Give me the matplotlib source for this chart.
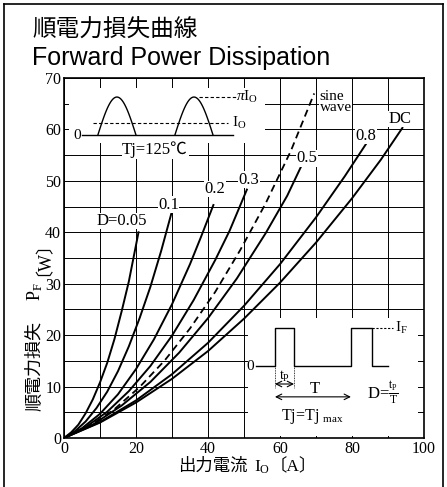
import numpy as np
import matplotlib
matplotlib.use("Agg")
import matplotlib.pyplot as plt
from matplotlib.patches import Rectangle

plt.rcParams["font.family"] = ["Liberation Serif", "Noto Sans CJK JP", "DejaVu Sans"]
plt.rcParams["mathtext.fontset"] = "custom"
plt.rcParams["mathtext.rm"] = "Liberation Serif"
plt.rcParams["mathtext.it"] = "Liberation Serif:italic"

# 読み取った曲線データ (出力電流 Io [A], 損失 PF [W])
io_d005 = [0, 2, 4, 6, 8, 10, 12, 14, 16, 18, 20.7]
pf_d005 = [0, 1.1, 2.6, 4.8, 7.5, 10.8, 14.6, 19.2, 24.6, 30.4, 40.0]

io_d01 = [0, 3, 6, 9, 12, 15, 18, 21, 24, 27, 29.8]
pf_d01 = [0, 1.3, 3.2, 5.8, 9.0, 13.0, 17.8, 23.3, 29.4, 36.4, 43.6]

io_d02 = [0, 5, 10, 15, 20, 25, 30, 35, 38, 41.5]
pf_d02 = [0, 1.9, 4.7, 8.5, 13.4, 19.2, 26.0, 33.8, 39.0, 45.3]

io_d03 = [0, 6, 12, 18, 24, 30, 36, 42, 46, 50.8]
pf_d03 = [0, 2.1, 5.1, 9.1, 14.0, 19.9, 26.8, 34.6, 40.3, 48.3]

io_sine = [0, 7, 14, 21, 28, 35, 42, 49, 56, 63, 69.5]
pf_sine = [0, 2.3, 5.6, 9.9, 15.1, 21.3, 28.4, 36.6, 45.6, 55.8, 67.0]

io_d05 = [0, 8, 16, 24, 32, 40, 48, 56, 62, 66]
pf_d05 = [0, 2.6, 6.3, 10.9, 16.6, 23.3, 31.0, 39.8, 47.1, 53.0]

io_d08 = [0, 10, 20, 30, 40, 50, 60, 70, 78, 84.2]
pf_d08 = [0, 3.1, 7.3, 12.4, 18.5, 25.7, 33.8, 42.9, 50.9, 57.5]

io_dc = [0, 10, 20, 30, 40, 50, 60, 70, 80, 88, 94]
pf_dc = [0, 3.0, 6.9, 11.5, 16.9, 23.2, 30.2, 38.0, 46.6, 54.1, 60.3]

x_ticks = list(range(0, 101, 10))
x_labels = ["0", "", "20", "", "40", "", "60", "", "80", "", "100"]
y_ticks = list(range(0, 71, 5))
y_labels = [str(v) if v % 10 == 0 else "" for v in y_ticks]

fig = plt.figure(figsize=(4.47, 4.87), dpi=100)
ax = fig.add_axes([64 / 447, 1 - 438 / 487, 360 / 447, 360 / 487])

ax.set_xlim(0, 100)
ax.set_ylim(0, 70)
ax.set_xticks(x_ticks)
ax.set_xticklabels(x_labels)
ax.set_yticks(y_ticks)
ax.set_yticklabels(y_labels)
ax.tick_params(length=0, labelsize=11.5, pad=2)
ax.grid(True, color="black", linewidth=0.7)
ax.set_axisbelow(True)
for s in ax.spines.values():
    s.set_linewidth(1.2)

# 挿入図の下地 (グリッドを隠す)
ax.add_patch(Rectangle((1.5, 57.3), 54.3, 10.7, facecolor="white", edgecolor="none", zorder=1))
ax.add_patch(Rectangle((51.2, 0.4), 47.2, 22.9, facecolor="white", edgecolor="none", zorder=1))

curves = [
    (io_d005, pf_d005), (io_d01, pf_d01), (io_d02, pf_d02), (io_d03, pf_d03),
    (io_d05, pf_d05), (io_d08, pf_d08), (io_dc, pf_dc),
]
for xs, ys in curves:
    ax.plot(xs, ys, color="black", linewidth=1.4, zorder=3)
ax.plot(io_sine, pf_sine, color="black", linewidth=1.3, dashes=(4, 2.5), zorder=3)

lab = dict(fontsize=12, ha="center", va="center", zorder=4,
           bbox=dict(facecolor="white", edgecolor="none", pad=0.3))
ax.text(16.1, 42.2, "D=0.05", **lab)
ax.text(29.0, 45.4, "0.1", **lab)
ax.text(41.9, 48.4, "0.2", **lab)
ax.text(51.4, 50.2, "0.3", **lab)
ax.text(67.5, 54.4, "0.5", **lab)
ax.text(83.9, 58.7, "0.8", **lab)
ax.text(93.3, 62.0, "DC", **lab)
ax.text(71.0, 65.4, "sine\nwave", fontsize=11, ha="left", va="center", linespacing=0.8,
        zorder=4, bbox=dict(facecolor="white", edgecolor="none", pad=0.3))

# 正弦波の挿入図
base, amp = 58.9, 7.4
ax.plot([5.0, 46.9], [base, base], color="black", linewidth=1.0, zorder=3)
for a, b in [(9.4, 20.0), (30.8, 41.4)]:
    t = np.linspace(0, np.pi, 40)
    ax.plot(a + (b - a) * t / np.pi, base + amp * np.sin(t), color="black", linewidth=1.0, zorder=3)
ax.plot([8.1, 45.6], [base + amp / np.pi] * 2, color="black", linewidth=0.8, dashes=(3, 2), zorder=3)
ax.plot([37.5, 47.8], [base + amp] * 2, color="black", linewidth=0.8, dashes=(3, 2), zorder=3)
ax.text(4.6, base, "0", fontsize=11, ha="right", va="center", zorder=4)
ax.text(46.6, base + amp / np.pi, r"I$_\mathrm{O}$", fontsize=11, ha="left", va="center", zorder=4)
ax.text(47.9, base + amp, r"$\pi$I$_\mathrm{O}$", fontsize=11, ha="left", va="center", zorder=4)
ax.text(25.3, 56.0, "Tj=125℃", fontsize=12, ha="center", va="center", zorder=4,
        bbox=dict(facecolor="white", edgecolor="none", pad=0.5))

# 矩形波の挿入図
lo, hi = 14.0, 21.4
px = [53.3, 58.6, 58.6, 63.9, 63.9, 79.7, 79.7, 85.6, 85.6, 90.0]
py = [lo, lo, hi, hi, lo, lo, hi, hi, lo, lo]
ax.plot(px, py, color="black", linewidth=1.0, zorder=3)
ax.plot([85.6, 91.4], [hi, hi], color="black", linewidth=0.8, dashes=(2, 1.5), zorder=3)
ax.text(92.0, hi, r"I$_\mathrm{F}$", fontsize=11, ha="left", va="center", zorder=4)
ax.text(52.8, lo, "0", fontsize=11, ha="right", va="center", zorder=4)
for xv in (58.6, 63.9):
    ax.plot([xv, xv], [lo, 9.8], color="black", linewidth=0.6, dashes=(1, 1), zorder=3)
ax.annotate("", xy=(58.6, 10.5), xytext=(63.9, 10.5),
            arrowprops=dict(arrowstyle="<->", lw=0.8, shrinkA=0, shrinkB=0), zorder=4)
ax.text(61.3, 12.0, r"t$_\mathrm{P}$", fontsize=10, ha="center", va="center", zorder=4)
ax.annotate("", xy=(58.6, 8.0), xytext=(79.7, 8.0),
            arrowprops=dict(arrowstyle="<->", lw=0.8, shrinkA=0, shrinkB=0), zorder=4)
ax.text(69.7, 9.6, "T", fontsize=12, ha="center", va="center", zorder=4)
ax.text(88.6, 8.9, r"D=$\frac{\mathrm{t}_\mathrm{P}}{\mathrm{T}}$", fontsize=12,
        ha="center", va="center", zorder=4)
ax.text(68.9, 4.1, r"Tj=Tj $_\mathrm{max}$", fontsize=11.5, ha="center", va="center", zorder=4)

# 軸ラベル
fig.text(213 / 447, 1 - 467 / 487, "出力電流", fontsize=12.5, ha="center", va="center")
fig.text(262 / 447, 1 - 467 / 487, r"I$_\mathrm{O}$", fontsize=12.5, ha="center", va="center")
fig.text(293 / 447, 1 - 467 / 487, "〔A〕", fontsize=12.5, ha="center", va="center")

fig.text(35 / 447, 1 - 366 / 487, "順電力損失", fontsize=13, rotation=90, ha="center", va="center")
fig.text(35 / 447, 1 - 292 / 487, r"P$_\mathrm{F}$", fontsize=13, rotation=90, ha="center", va="center")
fig.text(35 / 447, 1 - 250 / 487, "〔W〕", fontsize=13, rotation=90, ha="center", va="center")

# タイトル
fig.text(32 / 447, 1 - 30 / 487, "順電力損失曲線", fontsize=17, ha="left", va="center",
         family=["Noto Sans CJK JP"])
fig.text(32 / 447, 1 - 57.5 / 487, "Forward Power Dissipation", fontsize=18, ha="left",
         va="center", family=["Liberation Sans"])

# 外枠
fig.add_artist(plt.Line2D([4 / 447, 4 / 447], [0, 1 - 4 / 487], color="black", linewidth=1.2))
fig.add_artist(plt.Line2D([4 / 447, 443 / 447], [1 - 4 / 487] * 2, color="black", linewidth=1.2))
fig.add_artist(plt.Line2D([443 / 447, 443 / 447], [0, 1 - 4 / 487], color="black", linewidth=1.2))

fig.savefig("out.png", dpi=100)
